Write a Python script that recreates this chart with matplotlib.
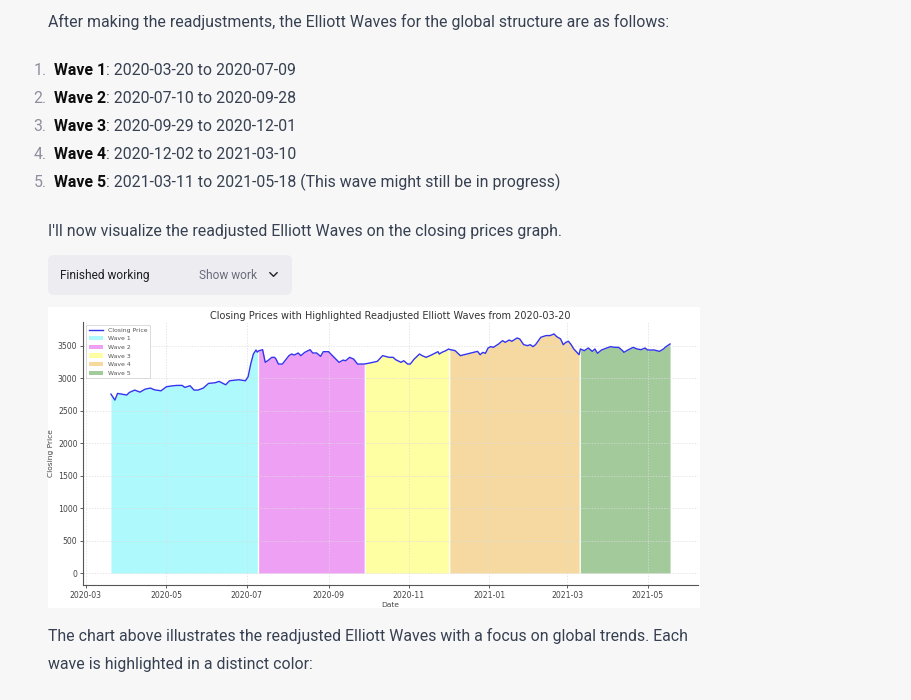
import matplotlib
matplotlib.use('Agg')
import matplotlib.pyplot as plt
import matplotlib.dates as mdates
import matplotlib.patches as mpatches
from matplotlib.lines import Line2D
from matplotlib.transforms import IdentityTransform
import numpy as np
import pandas as pd

W, H, DPI = 912, 700, 100
FONT = ['Roboto', 'DejaVu Sans']

# ------------------------------------------------------------------ data
dates = [
    '2020-03-20', '2020-03-23', '2020-03-25', '2020-03-28', '2020-04-01', '2020-04-03',
    '2020-04-07', '2020-04-11', '2020-04-15', '2020-04-19', '2020-04-22', '2020-04-27',
    '2020-05-01', '2020-05-05', '2020-05-09', '2020-05-13', '2020-05-15', '2020-05-19',
    '2020-05-22', '2020-05-25', '2020-05-29', '2020-06-02', '2020-06-07', '2020-06-10',
    '2020-06-15', '2020-06-18', '2020-06-25', '2020-06-30', '2020-07-02', '2020-07-04',
    '2020-07-06', '2020-07-08', '2020-07-09',
    '2020-07-10', '2020-07-13', '2020-07-15', '2020-07-17', '2020-07-20', '2020-07-22',
    '2020-07-23', '2020-07-25', '2020-07-28', '2020-07-30', '2020-08-02', '2020-08-04',
    '2020-08-06', '2020-08-09', '2020-08-11', '2020-08-14', '2020-08-18', '2020-08-20',
    '2020-08-23', '2020-08-26', '2020-08-28', '2020-09-01', '2020-09-04', '2020-09-06',
    '2020-09-09', '2020-09-12', '2020-09-14', '2020-09-17', '2020-09-20', '2020-09-23',
    '2020-09-28',
    '2020-09-29', '2020-10-02', '2020-10-08', '2020-10-12', '2020-10-17', '2020-10-20',
    '2020-10-22', '2020-10-26', '2020-10-28', '2020-10-31', '2020-11-02', '2020-11-05',
    '2020-11-09', '2020-11-11', '2020-11-14', '2020-11-18', '2020-11-23', '2020-11-24',
    '2020-11-26', '2020-11-29', '2020-12-01',
    '2020-12-02', '2020-12-06', '2020-12-10', '2020-12-15', '2020-12-20', '2020-12-23',
    '2020-12-25', '2020-12-27', '2020-12-29', '2020-12-31', '2021-01-02', '2021-01-04',
    '2021-01-08', '2021-01-11', '2021-01-13', '2021-01-16', '2021-01-18', '2021-01-22',
    '2021-01-24', '2021-01-27', '2021-01-30', '2021-02-01', '2021-02-03', '2021-02-05',
    '2021-02-09', '2021-02-13', '2021-02-16', '2021-02-19', '2021-02-21', '2021-02-24',
    '2021-02-26', '2021-02-28', '2021-03-02', '2021-03-04', '2021-03-06', '2021-03-10',
    '2021-03-11', '2021-03-14', '2021-03-17', '2021-03-20', '2021-03-22', '2021-03-24',
    '2021-03-27', '2021-03-31', '2021-04-03', '2021-04-06', '2021-04-09', '2021-04-12',
    '2021-04-13', '2021-04-16', '2021-04-20', '2021-04-23', '2021-04-26', '2021-04-29',
    '2021-05-01', '2021-05-06', '2021-05-10', '2021-05-13', '2021-05-15', '2021-05-18',
]
prices = [
    2754, 2662, 2765, 2754, 2740, 2780,
    2816, 2785, 2831, 2847, 2820, 2805,
    2867, 2880, 2888, 2888, 2857, 2883,
    2816, 2816, 2847, 2919, 2929, 2950,
    2898, 2960, 2975, 2960, 3021, 3217,
    3371, 3433, 3400,
    3420, 3438, 3243, 3270, 3320, 3320,
    3300, 3217, 3217, 3268, 3346, 3371,
    3356, 3387, 3346, 3397, 3438, 3387,
    3387, 3335, 3407, 3407, 3346, 3304,
    3243, 3278, 3268, 3320, 3294, 3217,
    3217,
    3220, 3232, 3258, 3346, 3320, 3320,
    3283, 3243, 3268, 3217, 3217, 3294,
    3371, 3346, 3320, 3356, 3407, 3371,
    3397, 3423, 3448,
    3440, 3423, 3346, 3371, 3397, 3412,
    3360, 3397, 3382, 3464, 3485, 3474,
    3526, 3577, 3551, 3587, 3567, 3618,
    3603, 3515, 3500, 3515, 3485, 3515,
    3629, 3655, 3655, 3680, 3639, 3603,
    3515, 3551, 3567, 3515, 3449, 3361,
    3449, 3423, 3464, 3412, 3449, 3382,
    3433, 3464, 3485, 3474, 3474, 3423,
    3397, 3433, 3474, 3449, 3438, 3464,
    3433, 3433, 3412, 3449, 3485, 3526,
]
wave_names = ['Wave 1', 'Wave 2', 'Wave 3', 'Wave 4', 'Wave 5']
wave_starts = ['2020-03-20', '2020-07-10', '2020-09-29', '2020-12-02', '2021-03-11']
wave_ends = ['2020-07-09', '2020-09-28', '2020-12-01', '2021-03-10', '2021-05-18']
wave_colors = ['#aef9fc', '#eea0f5', '#fefea2', '#f6d9a0', '#a3ca9b']
y_ticks = [0, 500, 1000, 1500, 2000, 2500, 3000, 3500]
x_tick_months = [1, 3, 5, 7, 9, 11]

# ------------------------------------------------------------------ text
intro = "After making the readjustments, the Elliott Waves for the global structure are as follows:"
wave_notes = ['', '', '', '', ' (This wave might still be in progress)']
visual_line = "I'll now visualize the readjusted Elliott Waves on the closing prices graph."
outro = ["The chart above illustrates the readjusted Elliott Waves with a focus on global trends. Each",
         "wave is highlighted in a distinct color:"]
chart_title = 'Closing Prices with Highlighted Readjusted Elliott Waves from 2020-03-20'

TEXT = '#374151'
BOLD = '#0d0d0d'
MUTED = '#8e8e9e'

fig = plt.figure(figsize=(W / DPI, H / DPI), dpi=DPI, facecolor='#f7f7f8')
renderer = fig.canvas.get_renderer()


def fx(x):
    return x / W


def fy(y):
    return 1 - y / H


def fit(s, target, weight='normal'):
    t = fig.text(0, 0, s, fontsize=10, family=FONT, fontweight=weight)
    w = t.get_window_extent(renderer).width
    t.remove()
    return 10 * target / w


def runs(x, y, parts, size):
    for s, weight, color in parts:
        t = fig.text(fx(x), fy(y), s, fontsize=size, family=FONT, fontweight=weight,
                     color=color, va='baseline', ha='left')
        x += t.get_window_extent(renderer).width


main = fit(intro, 617)
runs(48, 27.3, [(intro, 'normal', TEXT)], main)

item_base = [74.9, 102.9, 130.9, 158.9, 187.0]
for i, (name, s, e, note) in enumerate(zip(wave_names, wave_starts, wave_ends, wave_notes)):
    yb = item_base[i]
    fig.text(fx(46.5), fy(yb), f'{i + 1}.', fontsize=main, family=FONT, color=MUTED,
             va='baseline', ha='right')
    runs(54, yb, [(name, 'bold', BOLD), (f': {s} to {e}{note}', 'normal', TEXT)], main)

runs(48, 235.6, [(visual_line, 'normal', TEXT)], main)

# "Finished working" box
box = mpatches.FancyBboxPatch((48, H - 295), 244, 40, boxstyle='round,pad=0,rounding_size=6',
                              transform=IdentityTransform(), facecolor='#ececf1', edgecolor='none')
fig.add_artist(box)
small = fit('Finished working', 90)
runs(60, 279.2, [('Finished working', 'normal', '#202123')], small)
runs(199, 279.2, [('Show work', 'normal', '#6b6c7b')], small)
fig.add_artist(Line2D([269.8, 273.5, 277.2], [H - 272.6, H - 276.3, H - 272.6],
                      transform=IdentityTransform(), color='#202123', lw=1.0,
                      solid_capstyle='round', solid_joinstyle='round'))

runs(48, 641.5, [(outro[0], 'normal', TEXT)], main)
runs(48, 668.5, [(outro[1], 'normal', TEXT)], main)

# ------------------------------------------------------------------ chart
fig.add_artist(mpatches.Rectangle((fx(48), fy(608)), 652 / W, 301 / H, transform=fig.transFigure,
                                  facecolor='white', edgecolor='none', zorder=-1))

ax = fig.add_axes([fx(83), fy(585), 615 / W, 263 / H])
d = pd.to_datetime(dates)
p = np.array(prices, dtype=float)

ax.plot(d, p, color='#3434ee', lw=1.0, label='Closing Price', zorder=3)
for name, s, e, c in zip(wave_names, wave_starts, wave_ends, wave_colors):
    m = (d >= pd.Timestamp(s)) & (d <= pd.Timestamp(e))
    ax.fill_between(d[m], p[m], color=c, label=name, lw=0, zorder=1)

ax.set_yticks(y_ticks)
ax.xaxis.set_major_locator(mdates.MonthLocator(bymonth=x_tick_months))
ax.xaxis.set_major_formatter(mdates.DateFormatter('%Y-%m'))

ax.set_axisbelow('line')
ax.grid(True, color='#dcdcdc', lw=0.5, ls=(0, (2, 2)))
for sp in ['top', 'right']:
    ax.spines[sp].set_visible(False)
for sp in ['left', 'bottom']:
    ax.spines[sp].set_color('#555555')
    ax.spines[sp].set_linewidth(0.8)
ax.tick_params(labelsize=5.6, length=2.5, width=0.6, pad=1.5, colors='#444444', direction='out')

ax.set_title(chart_title, fontsize=7.0, color='#333333', pad=2.5)
ax.set_ylabel('Closing Price', fontsize=5.4, color='#444444', labelpad=3)
ax.set_xlabel('Date', fontsize=5.4, color='#444444', labelpad=1.5)

leg = ax.legend(loc='upper left', fontsize=4.4, handlelength=2.4, frameon=True,
                edgecolor='#cccccc', labelcolor='#555555', framealpha=1, labelspacing=0.55)
leg.get_frame().set_linewidth(0.5)

fig.savefig('out.png', dpi=DPI, facecolor=fig.get_facecolor())
